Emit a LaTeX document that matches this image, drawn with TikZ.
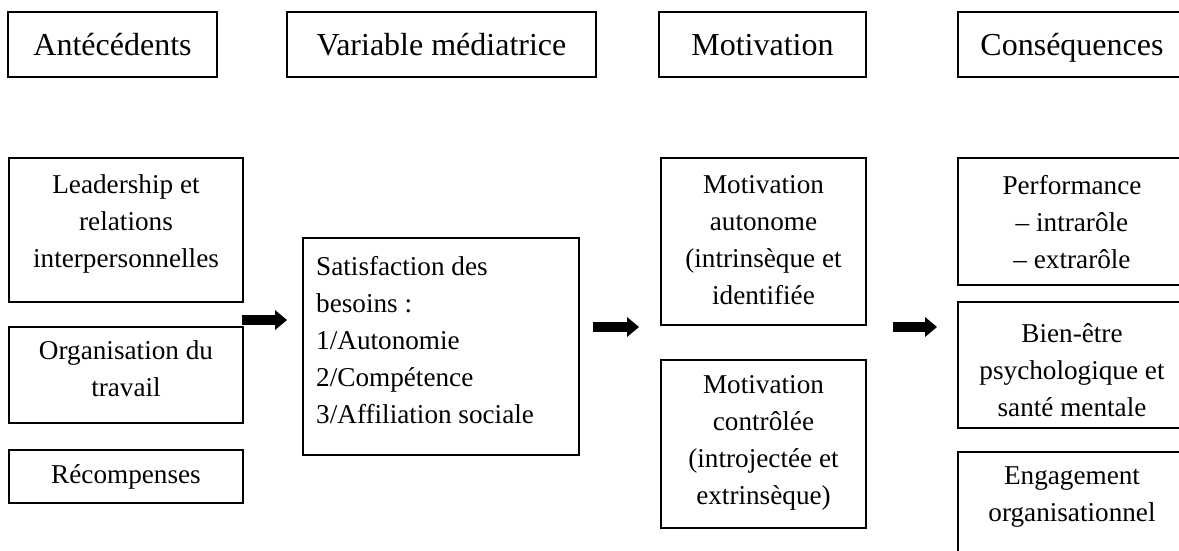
\documentclass[tikz,border=0pt]{standalone}
\usepackage{fontspec}
\setmainfont{Liberation Serif}
\usetikzlibrary{arrows.meta}

\tikzset{
  box/.style={draw=black, line width=1.8pt, rectangle, inner sep=0pt, outer sep=0pt},
  headtxt/.style={font=\fontsize{32}{38}\selectfont, inner sep=0pt, anchor=base},
  bodytxt/.style={font=\fontsize{27.2}{37}\selectfont, inner sep=0pt, align=center},
  blockarrow/.style={line width=10pt, -{Triangle[length=12pt, width=20pt, line width=0pt]}}
}

\begin{document}
\begin{tikzpicture}[x=1pt, y=-1pt]
\useasboundingbox (0,0) rectangle (1179,550);
\clip (0,0) rectangle (1179,550);

% column headers
\node[box, minimum width=209pt, minimum height=65pt] (hAnt) at (112.5,44.5) {};
\node[box, minimum width=309pt, minimum height=65pt] (hVar) at (441.5,44.5) {};
\node[box, minimum width=207pt, minimum height=65pt] (hMot) at (762.5,44.5) {};
\node[box, minimum width=228pt, minimum height=65pt] (hCon) at (1072,44.5) {};
\node[headtxt] (hAntT) at (112.5,55) {Antécédents};
\node[headtxt] (hVarT) at (441.5,55) {Variable médiatrice};
\node[headtxt] (hMotT) at (762.5,55) {Motivation};
\node[headtxt] (hConT) at (1072,55) {Conséquences};

% antecedents
\node[box, minimum width=234pt, minimum height=144pt] (lead) at (126,230) {};
\node[box, minimum width=234pt, minimum height=96pt] (orga) at (126,375) {};
\node[box, minimum width=234pt, minimum height=53pt] (reco) at (126,476.5) {};
\node[bodytxt] (leadT) at (126,223.5) {Leadership et\\relations\\interpersonnelles};
\node[bodytxt] (orgaT) at (126,369) {Organisation du\\travail};
\node[bodytxt] (recoT) at (126,477) {Récompenses};

% mediating variable
\node[box, minimum width=276pt, minimum height=217pt] (sat) at (441,346.5) {};
\node[bodytxt, align=left, anchor=west] (satT) at (316,340)
  {Satisfaction des\\besoins :\\1/Autonomie\\2/Compétence\\3/Affiliation sociale};

% motivation
\node[box, minimum width=205pt, minimum height=167pt] (auto) at (763.5,241.5) {};
\node[box, minimum width=205pt, minimum height=168pt] (ctrl) at (763.5,444) {};
\node[bodytxt] (autoT) at (763.5,240) {Motivation\\autonome\\(intrinsèque et\\identifiée};
\node[bodytxt] (ctrlT) at (763.5,443) {Motivation\\contrôlée\\(introjectée et\\extrinsèque)};

% consequences
\node[box, minimum width=228pt, minimum height=127pt] (perf) at (1072,221.5) {};
\node[box, minimum width=228pt, minimum height=126pt] (bien) at (1072,365) {};
\node[box, minimum width=228pt, minimum height=148pt] (enga) at (1072,526) {};
\node[bodytxt] (perfT) at (1072,222.5) {Performance\\– intrarôle\\– extrarôle};
\node[bodytxt] (bienT) at (1072,370) {Bien-être\\psychologique et\\santé mentale};
\node[bodytxt] (engaT) at (1072,497.5) {Engagement\\organisationnel};

% block arrows between the columns
\coordinate (a1s) at (242,320);
\coordinate (a1e) at (287,320);
\coordinate (a2s) at (593,327);
\coordinate (a2e) at (639,327);
\coordinate (a3s) at (893,327);
\coordinate (a3e) at (937,327);
\draw[blockarrow] (a1s) -- (a1e);
\draw[blockarrow] (a2s) -- (a2e);
\draw[blockarrow] (a3s) -- (a3e);
\end{tikzpicture}
\end{document}
